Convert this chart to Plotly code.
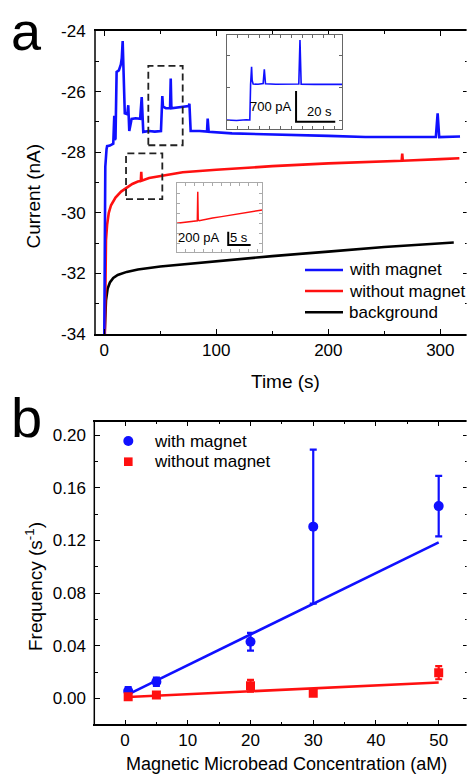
import plotly.graph_objects as go

# ---------------- DATA ----------------
# Panel a: current traces (time in s, current in nA)
t_with = [0.0, 0.9, 2.0, 2.5, 5.0, 8.0, 8.5, 8.9, 9.4, 10.0, 11.0, 13.0, 14.8, 15.6, 16.4, 17.0, 17.9, 18.3, 20.5, 21.4,
          22.3, 23.5, 24.4, 28.0, 32.0, 33.4, 34.2, 34.8, 40.0, 45.0, 50.6, 51.2, 51.8, 52.4, 55.0, 58.7, 59.3,
          59.9, 65.0, 70.0, 75.3, 76.0, 77.1, 85.0, 91.7, 92.3, 93.2, 114.0, 140.0, 173.7, 200.0, 233.0, 265.0,
          296.0, 297.6, 299.0, 317.6]
i_with = [-34.0, -28.48, -27.9, -27.8, -27.78, -27.72, -27.2, -26.8, -27.6, -27.55, -25.35, -25.3, -25.1, -24.9, -24.33, -25.2,
          -26.4, -26.72, -26.75, -26.45, -27.3, -27.0, -26.9, -26.88, -26.9, -26.18, -27.0, -27.33, -27.3, -27.32,
          -27.3, -26.5, -26.15, -26.5, -26.55, -26.55, -25.57, -26.55, -26.53, -26.52, -26.48, -26.4, -27.3,
          -27.3, -27.32, -26.89, -27.33, -27.38, -27.4, -27.45, -27.46, -27.5, -27.5, -27.5, -26.72, -27.5, -27.48]

t_without = [0.5, 1.0, 1.5, 2.5, 4.0, 6.0, 10.0, 15.0, 20.0, 25.0, 30.0, 32.6, 33.0, 33.4, 40.0, 50.0, 70.0, 100.0,
             150.0, 200.0, 250.0, 265.5, 266.0, 266.5, 300.0, 317.0]
i_without = [-34.0, -31.5, -30.9, -30.4, -30.0, -29.75, -29.5, -29.3, -29.17, -29.05, -28.97, -28.95, -28.65, -28.94,
             -28.85, -28.78, -28.66, -28.58, -28.46, -28.37, -28.3, -28.28, -28.05, -28.28, -28.23, -28.2]

t_bg = [0.3, 0.8, 1.5, 3.0, 5.0, 8.0, 12.0, 20.0, 30.0, 50.0, 75.0, 100.0, 150.0, 200.0, 250.0, 312.0]
i_bg = [-34.0, -33.3, -32.9, -32.5, -32.3, -32.15, -32.05, -31.95, -31.87, -31.77, -31.68, -31.6, -31.43, -31.28,
        -31.13, -30.98]

# Inset 1 (with magnet zoom): time in s, current in pA
ins1_t = [0, 5, 10, 11.8, 12.2, 12.7, 13.0, 13.5, 16, 18.6, 19.2, 19.8, 25, 30, 36.8, 37.4, 38.0, 45, 52, 59]
ins1_i = [0, -10, 5, 0, 810, 1216, 900, 820, 815, 830, 1156, 825, 815, 810, 820, 1825, 815, 812, 818, 812]
ins1_bar_t = [35.4, 35.4, 55.4]
ins1_bar_i = [661, -39, -39]

# Inset 2 (without magnet zoom): time in s, current in pA
ins2_t = [0, 1, 2, 3, 4, 4.6, 4.7, 4.8, 5.0, 6, 8, 10, 12, 14, 16, 18, 19.1]
ins2_i = [0, 10, 15, 25, 35, 38, 474, 50, 40, 55, 80, 100, 120, 140, 160, 185, 200]
ins2_bar_t = [11.5, 11.5, 16.5]
ins2_bar_i = [-125, -325, -325]

# Panel b
conc = [0.5, 5, 20, 30, 50]
freq_with = [0.0055, 0.0126, 0.043, 0.1304, 0.146]
err_with = [0.003, 0.0032, 0.0067, 0.0585, 0.023]
freq_without = [0.0013, 0.0025, 0.0096, 0.0038, 0.0195]
err_without = [0.001, 0.001, 0.0045, 0.002, 0.005]
fit_x = [0.5, 50]
fit_with = [0.003, 0.1185]
fit_without = [0.001, 0.0121]

ya_ticks = [-34, -32, -30, -28, -26, -24]
ya_ticklabels = ["-34", "-32", "-30", "-28", "-26", "-24"]
xa_ticks = [0, 100, 200, 300]
xb_ticks = [0, 10, 20, 30, 40, 50]
yb_ticks = [0.0, 0.04, 0.08, 0.12, 0.16, 0.20]

# ---------------- LAYOUT HELPERS ----------------
W, H = 469, 781
def px(x):
    return x / W
def py(y):
    return 1 - y / H

FONT = "Liberation Sans, Arial, sans-serif"
BLUE = "#1010ff"
RED = "#ff1010"
CLEAR = "rgba(0,0,0,0)"

fig = go.Figure()

# Panel a traces
fig.add_trace(go.Scatter(x=t_bg, y=i_bg, mode="lines", line=dict(color="black", width=2.6),
                         xaxis="x", yaxis="y", showlegend=False))
fig.add_trace(go.Scatter(x=t_without, y=i_without, mode="lines", line=dict(color=RED, width=2.6),
                         xaxis="x", yaxis="y", showlegend=False))
fig.add_trace(go.Scatter(x=t_with, y=i_with, mode="lines", line=dict(color=BLUE, width=2.6),
                         xaxis="x", yaxis="y", showlegend=False))

# Inset 1
fig.add_trace(go.Scatter(x=ins1_t, y=ins1_i, mode="lines", line=dict(color=BLUE, width=1.6),
                         xaxis="x3", yaxis="y3", showlegend=False))
fig.add_trace(go.Scatter(x=ins1_bar_t, y=ins1_bar_i, mode="lines", line=dict(color="black", width=2),
                         xaxis="x3", yaxis="y3", showlegend=False))
# Inset 2
fig.add_trace(go.Scatter(x=ins2_t, y=ins2_i, mode="lines", line=dict(color=RED, width=1.5),
                         xaxis="x4", yaxis="y4", showlegend=False))
fig.add_trace(go.Scatter(x=ins2_bar_t, y=ins2_bar_i, mode="lines", line=dict(color="black", width=2),
                         xaxis="x4", yaxis="y4", showlegend=False))

# Panel b traces
fig.add_trace(go.Scatter(x=fit_x, y=fit_with, mode="lines", line=dict(color=BLUE, width=2.6),
                         xaxis="x2", yaxis="y2", showlegend=False))
fig.add_trace(go.Scatter(x=fit_x, y=fit_without, mode="lines", line=dict(color=RED, width=2.6),
                         xaxis="x2", yaxis="y2", showlegend=False))
fig.add_trace(go.Scatter(x=conc, y=freq_with, mode="markers",
                         marker=dict(color=BLUE, size=10, symbol="circle"),
                         error_y=dict(type="data", array=err_with, color=BLUE, thickness=2.2, width=3.5),
                         xaxis="x2", yaxis="y2", name="with magnet", showlegend=False))
fig.add_trace(go.Scatter(x=conc, y=freq_without, mode="markers",
                         marker=dict(color=RED, size=9, symbol="square"),
                         error_y=dict(type="data", array=err_without, color=RED, thickness=2.2, width=3.5),
                         xaxis="x2", yaxis="y2", name="without magnet", showlegend=False))

tickfont = dict(family=FONT, size=17, color="black")
common = dict(showgrid=False, zeroline=False, ticks="inside", tickcolor="black",
              tickfont=tickfont, automargin=False)
inset_common = dict(showticklabels=False, showgrid=False, zeroline=False, automargin=False,
                    showline=True, linewidth=1, mirror="ticks", ticks="inside", ticklen=3)

A_L, A_T, A_B = 95, 31, 334
B_L, B_T, B_B = 94.3, 421.7, 724.3

fig.update_layout(
    width=W, height=H, margin=dict(l=0, r=0, t=0, b=0, autoexpand=False),
    paper_bgcolor="white", plot_bgcolor="white", showlegend=False,
    xaxis=dict(domain=[px(A_L), 1], anchor="y", range=[-8.3, 325.6], tickvals=xa_ticks,
               showline=True, linecolor="black", linewidth=1.5, mirror="ticks",
               ticklen=5, tickwidth=1.3,
               minor=dict(tickvals=[50, 150, 250], ticks="inside", ticklen=3, tickwidth=1, tickcolor="black"),
               ticklabelstandoff=0, **common),
    yaxis=dict(domain=[py(A_B), py(A_T)], anchor="x", range=[-34, -24], tickvals=ya_ticks,
               ticktext=ya_ticklabels, showline=True, linecolor=CLEAR, linewidth=1, mirror="ticks",
               ticklen=6, tickwidth=1.3,
               minor=dict(tickvals=[-33, -31, -29, -27, -25], ticks="inside", ticklen=4, tickwidth=1,
                          tickcolor="black"),
               ticklabelstandoff=5, **common),
    xaxis2=dict(domain=[px(B_L), 1], anchor="y2", range=[-4.9, 54.83], tickvals=xb_ticks,
                showline=True, linecolor="black", linewidth=1.5, mirror="ticks",
                ticklen=5, tickwidth=1.3,
                minor=dict(tickvals=[5, 15, 25, 35, 45], ticks="inside", ticklen=3, tickwidth=1,
                           tickcolor="black"),
                ticklabelstandoff=0, **common),
    yaxis2=dict(domain=[py(B_B), py(B_T)], anchor="x2", range=[-0.0197, 0.2101], tickvals=yb_ticks,
                tickformat=".2f", showline=True, linecolor=CLEAR, linewidth=1, mirror="ticks",
                ticklen=6, tickwidth=1.3,
                minor=dict(tickvals=[-0.02, 0.02, 0.06, 0.10, 0.14, 0.18], ticks="inside", ticklen=4,
                           tickwidth=1, tickcolor="black"),
                ticklabelstandoff=4, **common),
    xaxis3=dict(domain=[px(226.7), px(342.3)], anchor="y3", range=[0, 59], linecolor="#666666",
                tickcolor="#666666", dtick=5.5, tick0=0, **inset_common),
    yaxis3=dict(domain=[py(129.3), py(35)], anchor="x3", range=[-212, 1939], linecolor="#666666",
                tickcolor="#666666", dtick=735, tick0=0, **inset_common),
    xaxis4=dict(domain=[px(176.7), px(262.3)], anchor="y4", range=[0, 19.1], linecolor="#aaaaaa",
                tickcolor="#aaaaaa", dtick=2, tick0=0, **inset_common),
    yaxis4=dict(domain=[py(251.7), py(183.3)], anchor="x4", range=[-426, 600], linecolor="#aaaaaa",
                tickcolor="#aaaaaa", dtick=150, tick0=0, **inset_common),
)

shapes = []
# left frame lines
shapes.append(dict(type="line", xref="paper", yref="paper", x0=px(A_L), x1=px(A_L), y0=py(A_B), y1=py(A_T),
                   line=dict(color="black", width=1.5)))
shapes.append(dict(type="line", xref="paper", yref="paper", x0=px(B_L), x1=px(B_L), y0=py(B_B), y1=py(B_T),
                   line=dict(color="black", width=1.5)))
# the original frame continues past the right edge of the picture: mask the far right edge
shapes.append(dict(type="rect", xref="paper", yref="paper", layer="above", x0=px(466.6), x1=1.02,
                   y0=py(B_B + 3), y1=py(A_T - 3), fillcolor="white", line=dict(width=0)))
# dashed zoom boxes
shapes.append(dict(type="rect", xref="x", yref="y", x0=39.3, x1=70, y0=-27.77, y1=-25.15,
                   line=dict(color="#222222", width=1.8, dash="7px,4px")))
shapes.append(dict(type="rect", xref="x", yref="y", x0=19.4, x1=51.8, y0=-29.55, y1=-28.04,
                   line=dict(color="#222222", width=1.8, dash="7px,4px")))
# panel a legend line samples
for yy, col in [(270, BLUE), (291, RED), (312.3, "black")]:
    shapes.append(dict(type="line", xref="paper", yref="paper", x0=px(305), x1=px(343), y0=py(yy), y1=py(yy),
                       line=dict(color=col, width=2.6)))
# panel b legend markers
shapes.append(dict(type="circle", xref="paper", yref="paper", x0=px(123.3), x1=px(133.3), y0=py(446), y1=py(436),
                   fillcolor=BLUE, line=dict(color=BLUE, width=0)))
shapes.append(dict(type="rect", xref="paper", yref="paper", x0=px(124), x1=px(132.6), y0=py(466), y1=py(457.4),
                   fillcolor=RED, line=dict(color=RED, width=0)))
fig.update_layout(shapes=shapes)

ann = []
def text(x, y, s, size, xanchor="center", yanchor="middle", angle=0):
    ann.append(dict(x=px(x), y=py(y), xref="paper", yref="paper", text=s, showarrow=False,
                    xanchor=xanchor, yanchor=yanchor, textangle=angle,
                    font=dict(family=FONT, size=size, color="black")))

text(9, 31, "a", 54, xanchor="left")
text(9, 418, "b", 56, xanchor="left")
text(32.5, 196, "Current (nA)", 19, angle=-90)
text(285, 381, "Time (s)", 19)
text(34, 587, "Frequency (s<sup>-1</sup>)", 19, angle=-90)
text(286.5, 764, "Magnetic Microbead Concentration (aM)", 18)
# panel a legend
text(347, 270, "with magnet", 17, xanchor="left")
text(347, 291, "without magnet", 17, xanchor="left")
text(347, 312.3, "background", 17, xanchor="left")
# panel b legend
text(151.5, 441, "with magnet", 17, xanchor="left")
text(151.5, 461.7, "without magnet", 17, xanchor="left")
# inset scale labels
text(294, 106, "700 pA", 13, xanchor="right")
text(319, 112, "20 s", 13)
text(222, 238, "200 pA", 13, xanchor="right")
text(239, 237.5, "5 s", 13)
fig.update_layout(annotations=ann)

fig.write_html(
    "out.html",
    config={"displayModeBar": False},
    post_script="document.body.style.margin='0';document.body.style.padding='0';"
                "document.body.style.overflow='hidden';document.documentElement.style.overflow='hidden';",
)
